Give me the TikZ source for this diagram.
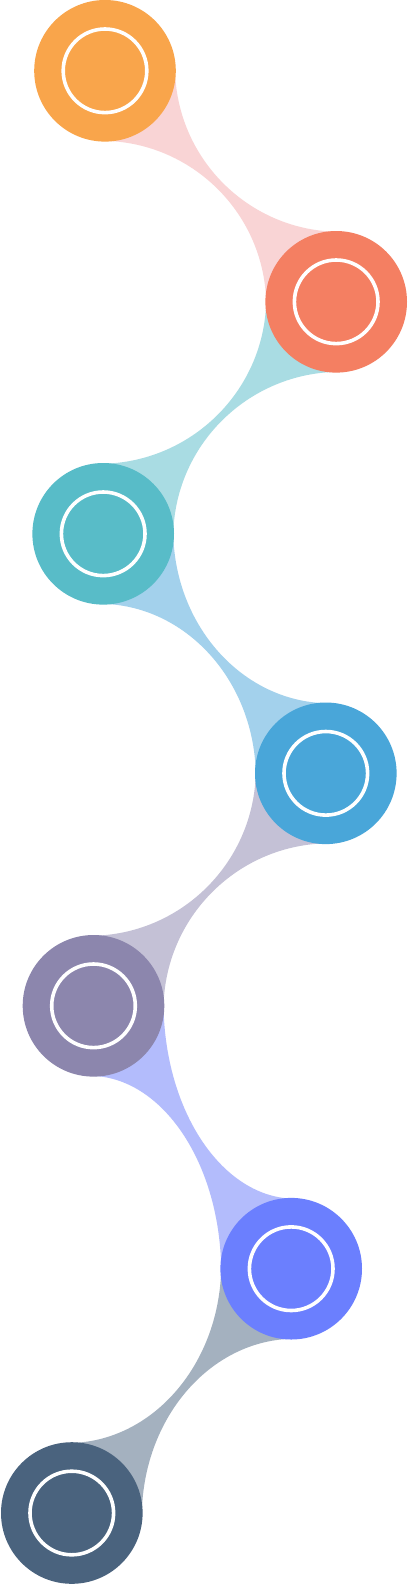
\documentclass[tikz,border=0pt]{standalone}
\usetikzlibrary{calc}
\definecolor{cOrange}{HTML}{F9A54B}
\definecolor{cSalmon}{HTML}{F47F62}
\definecolor{cTeal}{HTML}{58BCC8}
\definecolor{cBlue}{HTML}{49A6D9}
\definecolor{cMauve}{HTML}{8C86AD}
\definecolor{cPeri}{HTML}{6B7FFE}
\definecolor{cSlate}{HTML}{4A637E}
\definecolor{bPink}{HTML}{F9D4D5}
\definecolor{bTeal}{HTML}{A9DCE3}
\definecolor{bBlue}{HTML}{A3D1EC}
\definecolor{bMauve}{HTML}{C4C1D6}
\definecolor{bPeri}{HTML}{B3BCFC}
\definecolor{bSlate}{HTML}{A4B1BF}
\tikzset{
  bubble/.style={circle, inner sep=0pt, outer sep=0pt, minimum size=141.6pt, draw=none,
    path picture={\draw[white, line width=3.6pt] (path picture bounding box.center) circle (41.8pt);}}
}
\newcommand\linkband[3]{%
  \begin{scope}
    \clip (#2) rectangle (#3);
    \fill[#1, even odd rule] let \p1=(#2), \p2=(#3),
      \n1={sign((\x2)-(\x1))}, \n2={sign((\y1)-(\y2))},
      \n3={abs((\x2)-(\x1))-66pt}, \n4={abs((\y2)-(\y1))-66pt} in
      ($(#2)!-0.1!(#3)$) rectangle ($(#3)!-0.1!(#2)$)
      ({(\x2)+4pt*(\n1)},{(\y1)+4pt*(\n2)}) ellipse [x radius={\n3*1pt}, y radius={\n4*1pt}]
      ({(\x1)-4pt*(\n1)},{(\y2)-4pt*(\n2)}) ellipse [x radius={\n3*1pt}, y radius={\n4*1pt}];
  \end{scope}}
\begin{document}
\begin{tikzpicture}[x=1pt, y=-1pt]
  \fill[white] (0,0) rectangle (408,1584);
  \useasboundingbox (0,0) rectangle (408,1584);
  \coordinate (p1) at (105,70.8);
  \coordinate (p2) at (336.2,301.8);
  \coordinate (p3) at (103.2,533.8);
  \coordinate (p4) at (325.8,773.3);
  \coordinate (p5) at (93.5,1005.8);
  \coordinate (p6) at (291.2,1268.7);
  \coordinate (p7) at (71.8,1513);
  \linkband{bPink}{p1}{p2}
  \linkband{bTeal}{p2}{p3}
  \linkband{bBlue}{p3}{p4}
  \linkband{bMauve}{p4}{p5}
  \linkband{bPeri}{p5}{p6}
  \linkband{bSlate}{p6}{p7}
  \node[bubble, fill=cOrange] (c1) at (p1) {};
  \node[bubble, fill=cSalmon] (c2) at (p2) {};
  \node[bubble, fill=cTeal] (c3) at (p3) {};
  \node[bubble, fill=cBlue] (c4) at (p4) {};
  \node[bubble, fill=cMauve] (c5) at (p5) {};
  \node[bubble, fill=cPeri] (c6) at (p6) {};
  \node[bubble, fill=cSlate] (c7) at (p7) {};
\end{tikzpicture}
\end{document}
